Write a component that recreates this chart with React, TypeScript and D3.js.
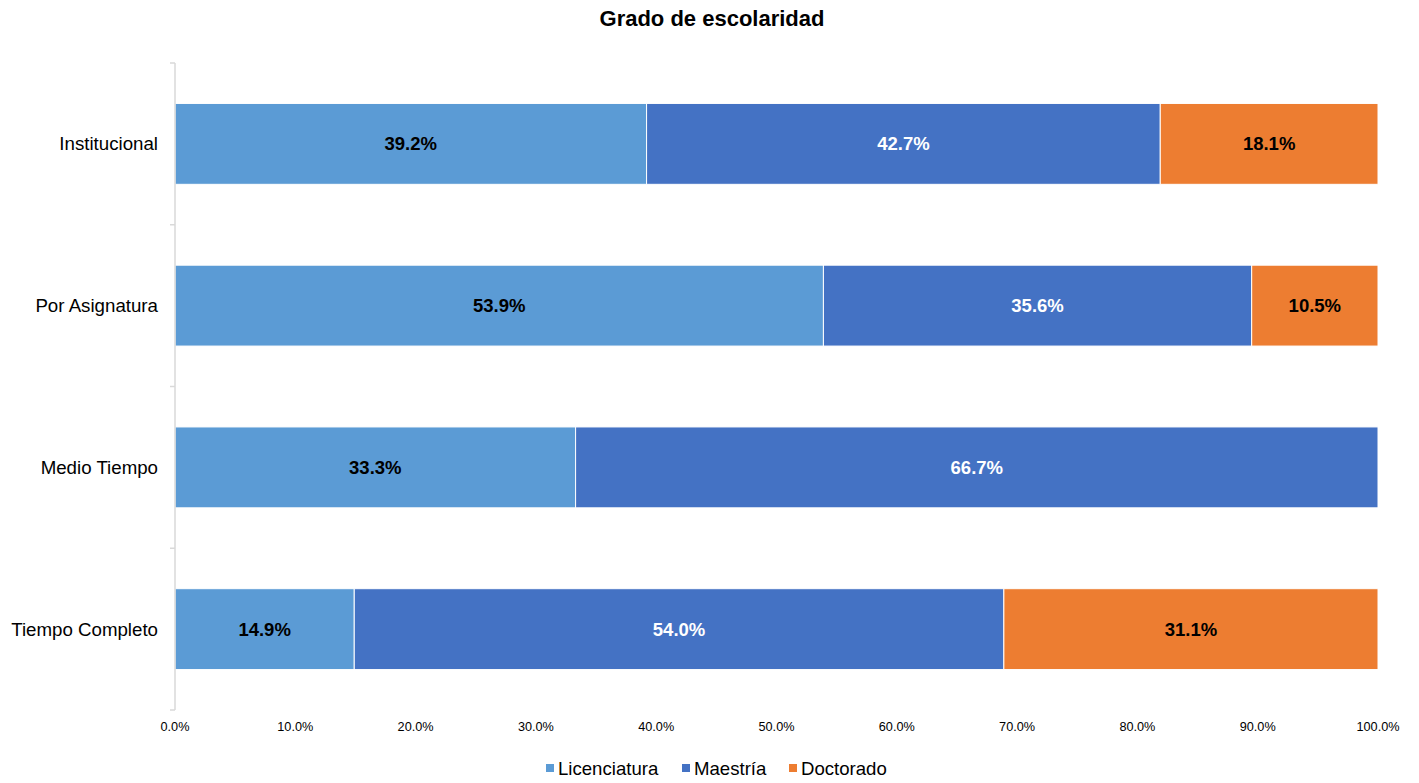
import React from "react";
import * as d3 from "d3";

const categories = ["Institucional", "Por Asignatura", "Medio Tiempo", "Tiempo Completo"];
const seriesNames = ["Licenciatura", "Maestría", "Doctorado"];
const licenciatura = [39.2, 53.9, 33.3, 14.9];
const maestria = [42.7, 35.6, 66.7, 54.0];
const doctorado = [18.1, 10.5, 0, 31.1];
const xTicks = [0, 10, 20, 30, 40, 50, 60, 70, 80, 90, 100];
const colors = ["#5B9BD5", "#4472C4", "#ED7D31"];
const labelColors = ["#000", "#fff", "#000"];

const W = 1419;
const H = 783;
const FONT = "'Liberation Sans', Arial, sans-serif";

export default function App() {
  const left = 175, right = 1378, top = 63, bottom = 710;
  const x = d3.scaleLinear().domain([0, 100]).range([left, right]);
  const y = d3.scaleBand().domain(categories).range([top, bottom]).paddingInner(0.5).paddingOuter(0.25);
  const rows = categories.map((c, i) => ({ cat: c, vals: [licenciatura[i], maestria[i], doctorado[i]] }));
  const boundaries = d3.range(categories.length + 1).map((i) => top + (i * (bottom - top)) / categories.length);

  const legendX = [546, 682, 789];

  return (
    <svg width={W} height={H} style={{ display: "block", position: "absolute", left: 0, top: 0 }} fontFamily={FONT}>
      <rect width={W} height={H} fill="#fff" />
      <text x={712} y={26} textAnchor="middle" fontSize={22} fontWeight="bold" fill="#000">Grado de escolaridad</text>

      {rows.map((r) => {
        let acc = 0;
        return (
          <g key={r.cat}>
            {r.vals.map((v, si) => {
              const x0 = x(acc);
              acc += v;
              const x1 = x(acc);
              if (v <= 0) return null;
              const yy = y(r.cat)!;
              const bw = y.bandwidth();
              return (
                <g key={si}>
                  <rect x={x0} y={yy} width={x1 - x0} height={bw} fill={colors[si]} stroke="#fff" strokeWidth={1} />
                  <text x={(x0 + x1) / 2} y={yy + bw / 2} dy="0.35em" textAnchor="middle" fontSize={18.5} fontWeight="bold" fill={labelColors[si]}>
                    {v.toFixed(1)}%
                  </text>
                </g>
              );
            })}
            <text x={158} y={y(r.cat)! + y.bandwidth() / 2} dy="0.35em" textAnchor="end" fontSize={18.7} fill="#000">{r.cat}</text>
          </g>
        );
      })}

      <line x1={left} x2={left} y1={top} y2={bottom} stroke="#d9d9d9" strokeWidth={1.5} />
      {boundaries.map((b, i) => (
        <line key={i} x1={left - 5} x2={left} y1={b} y2={b} stroke="#d9d9d9" strokeWidth={1.5} />
      ))}

      {xTicks.map((t) => (
        <text key={t} x={x(t)} y={731} textAnchor="middle" fontSize={12.7} fill="#000">{t.toFixed(1)}%</text>
      ))}

      {seriesNames.map((s, i) => (
        <g key={s}>
          <rect x={legendX[i]} y={764} width={8} height={8} fill={colors[i]} />
          <text x={legendX[i] + 12} y={775} fontSize={18.6} fill="#000">{s}</text>
        </g>
      ))}
    </svg>
  );
}
